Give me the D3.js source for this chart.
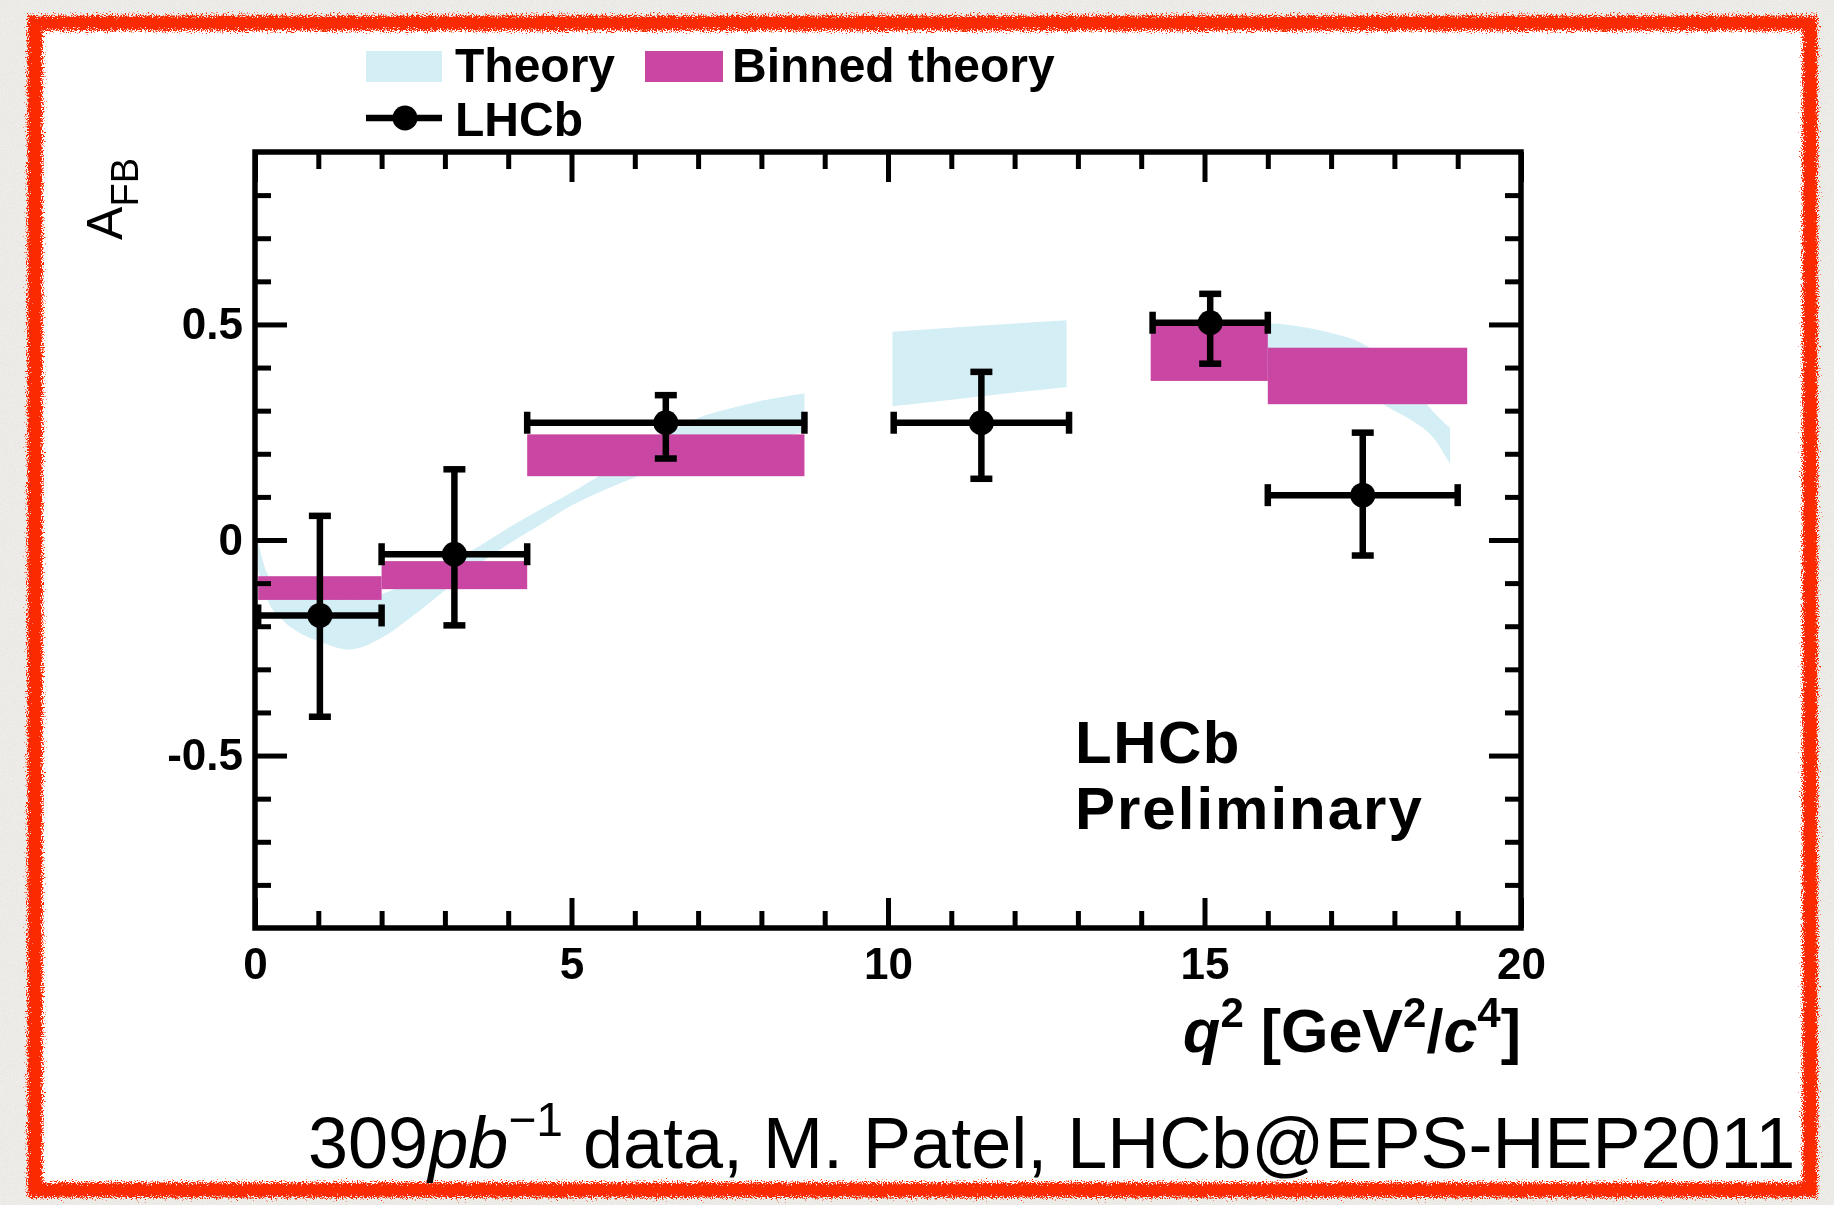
<!DOCTYPE html>
<html>
<head>
<meta charset="utf-8">
<script src="https://cdn.jsdelivr.net/npm/d3@7"></script>
<style>
  html, body { margin: 0; padding: 0; background: #eeede9; }
  svg { display: block; }
  text { font-family: "Liberation Sans", Arial, Helvetica, sans-serif; }
</style>
</head>
<body>
<svg id="chart" width="1834" height="1205"></svg>
<script>
// ---- Theory band (SM prediction, three q^2 regions) ----
const bandLowQ   = [0.05, 0.2, 0.45, 0.7, 1.0, 1.5, 2.0, 2.5, 3.0, 3.5, 4.0, 4.5, 5.0, 5.5, 6.0, 6.5, 7.0, 7.5, 8.0, 8.68];
const bandLowHi  = [-0.005, -0.08, -0.115, -0.128, -0.135, -0.138, -0.125, -0.095, -0.058, -0.018, 0.028, 0.07, 0.11, 0.155, 0.2, 0.245, 0.283, 0.305, 0.323, 0.34];
const bandLowLo  = [-0.07, -0.14, -0.188, -0.215, -0.234, -0.254, -0.227, -0.175, -0.117, -0.06, -0.01, 0.035, 0.08, 0.115, 0.145, 0.17, 0.19, 0.21, 0.23, 0.25];

const bandMidQ   = [10.07, 11.45, 12.82];
const bandMidHi  = [0.483, 0.497, 0.51];
const bandMidLo  = [0.31, 0.333, 0.355];

const bandHighQ  = [14.18, 15.0, 16.0, 16.5, 17.0, 17.5, 18.0, 18.3, 18.6, 18.88];
const bandHighHi = [0.47, 0.495, 0.502, 0.495, 0.48, 0.455, 0.40, 0.355, 0.30, 0.26];
const bandHighLo = [0.40, 0.41, 0.405, 0.39, 0.37, 0.34, 0.30, 0.275, 0.24, 0.176];

// ---- Binned theory ----
const binLo  = [0.05, 2.0, 4.3, 14.15, 16.0];
const binHi  = [2.0, 4.3, 8.68, 16.0, 19.15];
const binTop = [-0.084, -0.049, 0.245, 0.497, 0.446];
const binBot = [-0.139, -0.114, 0.148, 0.369, 0.315];

// ---- LHCb measurement ----
const dataLo   = [0.05, 2.0, 4.3, 10.09, 14.18, 16.0];
const dataHi   = [2.0, 4.3, 8.68, 12.86, 16.0, 19.0];
const afb      = [-0.175, -0.033, 0.272, 0.272, 0.504, 0.104];
const afbUp    = [0.056, 0.164, 0.336, 0.39, 0.571, 0.249];
const afbDown  = [-0.41, -0.198, 0.189, 0.142, 0.409, -0.036];

// ---- Axis ticks ----
const xMajor = [0, 5, 10, 15, 20];
const xTickLabels = ["0", "5", "10", "15", "20"];
const yMajor = [-0.5, 0, 0.5];
const yTickLabels = ["-0.5", "0", "0.5"];

const colTheory = "#d3eef4";
const colBinned = "#c946a2";

const svg = d3.select("#chart");
const defs = svg.append("defs");

// paper grain outside the frame
const paper = defs.append("filter").attr("id", "paper").attr("x", 0).attr("y", 0).attr("width", 1).attr("height", 1);
paper.append("feTurbulence").attr("type", "fractalNoise").attr("baseFrequency", 0.9).attr("numOctaves", 3).attr("seed", 4);
paper.append("feColorMatrix").attr("type", "matrix")
  .attr("values", "0 0 0 0 0.55  0 0 0 0 0.55  0 0 0 0 0.52  0.5 0 0 0 -0.2");

// hand-drawn marker border
const rough = defs.append("filter").attr("id", "rough").attr("x", "-3%").attr("y", "-3%").attr("width", "106%").attr("height", "106%");
rough.append("feTurbulence").attr("type", "fractalNoise").attr("baseFrequency", 0.8).attr("numOctaves", 3).attr("seed", 9).attr("result", "n");
rough.append("feDisplacementMap").attr("in", "SourceGraphic").attr("in2", "n").attr("scale", 13)
  .attr("xChannelSelector", "R").attr("yChannelSelector", "G");

// slight softness of the printed plot
const soft = defs.append("filter").attr("id", "soft").attr("x", "-2%").attr("y", "-2%").attr("width", "104%").attr("height", "104%");
soft.append("feGaussianBlur").attr("stdDeviation", 0.6);

svg.append("rect").attr("width", 1834).attr("height", 1205).attr("fill", "#eeede9");
svg.append("rect").attr("width", 1834).attr("height", 1205).attr("filter", "url(#paper)");

svg.append("rect").attr("x", 35).attr("y", 23).attr("width", 1775).attr("height", 1167).attr("fill", "#ffffff");
svg.append("rect").attr("x", 35).attr("y", 23).attr("width", 1775).attr("height", 1167)
  .attr("fill", "none").attr("stroke", "#fb2a06").attr("stroke-width", 15).attr("filter", "url(#rough)");

const chart = svg.append("g").attr("filter", "url(#soft)");

// ---- scales ----
const x = d3.scaleLinear().domain([0, 20]).range([255, 1521]);
const y = d3.scaleLinear().domain([-0.9, 0.9]).range([928, 152]);

defs.append("clipPath").attr("id", "plotclip").append("rect")
  .attr("x", x(0)).attr("y", y(0.9)).attr("width", x(20) - x(0)).attr("height", y(-0.9) - y(0.9));

const plot = chart.append("g").attr("clip-path", "url(#plotclip)");

// theory band
const area = d3.area()
  .x(d => x(d[0])).y0(d => y(d[2])).y1(d => y(d[1]))
  .curve(d3.curveMonotoneX);
[[bandLowQ, bandLowHi, bandLowLo], [bandMidQ, bandMidHi, bandMidLo], [bandHighQ, bandHighHi, bandHighLo]]
  .forEach(([q, hi, lo]) => {
    plot.append("path").datum(d3.zip(q, hi, lo)).attr("d", area).attr("fill", colTheory);
  });

// binned theory boxes
plot.selectAll("rect.bin").data(d3.range(binLo.length)).join("rect").attr("class", "bin")
  .attr("x", i => x(binLo[i])).attr("width", i => x(binHi[i]) - x(binLo[i]))
  .attr("y", i => y(binTop[i])).attr("height", i => y(binBot[i]) - y(binTop[i]))
  .attr("fill", colBinned);

// LHCb points with error bars
const pts = d3.range(afb.length).map(i => ({
  lo: dataLo[i], hi: dataHi[i], mid: (dataLo[i] + dataHi[i]) / 2,
  v: afb[i], up: afbUp[i], dn: afbDown[i]
}));
const eb = plot.append("g").attr("stroke", "#000").attr("stroke-width", 6.5).attr("fill", "none");
const capW = 11;
pts.forEach(p => {
  const cx = x(p.mid), cy = y(p.v);
  eb.append("line").attr("x1", x(p.lo)).attr("x2", x(p.hi)).attr("y1", cy).attr("y2", cy);
  eb.append("line").attr("x1", cx).attr("x2", cx).attr("y1", y(p.up)).attr("y2", y(p.dn));
  eb.append("line").attr("x1", x(p.lo)).attr("x2", x(p.lo)).attr("y1", cy - capW).attr("y2", cy + capW);
  eb.append("line").attr("x1", x(p.hi)).attr("x2", x(p.hi)).attr("y1", cy - capW).attr("y2", cy + capW);
  eb.append("line").attr("x1", cx - capW).attr("x2", cx + capW).attr("y1", y(p.up)).attr("y2", y(p.up));
  eb.append("line").attr("x1", cx - capW).attr("x2", cx + capW).attr("y1", y(p.dn)).attr("y2", y(p.dn));
});
plot.selectAll("circle.pt").data(pts).join("circle").attr("class", "pt")
  .attr("cx", p => x(p.mid)).attr("cy", p => y(p.v)).attr("r", 12.5).attr("fill", "#000");

// ---- axes and frame ----
const xMinor = d3.range(1, 20).filter(v => v % 5 !== 0);
const yMinor = d3.range(-8, 9).map(v => v / 10).filter(v => Math.abs(v) > 1e-9 && Math.abs(Math.abs(v) - 0.5) > 1e-9);

function styleAxis(g) {
  g.select(".domain").remove();
  g.selectAll(".tick line").attr("stroke", "#000").attr("stroke-width", 5);
  g.selectAll(".tick text").attr("font-size", 44).attr("font-weight", "bold").attr("fill", "#000");
}
const axes = chart.append("g");
axes.append("g").attr("transform", `translate(0,${y(-0.9)})`)
  .call(d3.axisBottom(x).tickValues(xMajor).tickSize(-30).tickPadding(20).tickFormat((d, i) => xTickLabels[i])).call(styleAxis);
axes.append("g").attr("transform", `translate(0,${y(-0.9)})`)
  .call(d3.axisBottom(x).tickValues(xMinor).tickSize(-17).tickFormat("")).call(styleAxis);
axes.append("g").attr("transform", `translate(0,${y(0.9)})`)
  .call(d3.axisTop(x).tickValues(xMajor).tickSize(-30).tickFormat("")).call(styleAxis);
axes.append("g").attr("transform", `translate(0,${y(0.9)})`)
  .call(d3.axisTop(x).tickValues(xMinor).tickSize(-17).tickFormat("")).call(styleAxis);
axes.append("g").attr("transform", `translate(${x(0)},0)`)
  .call(d3.axisLeft(y).tickValues(yMajor).tickSize(-32).tickPadding(12).tickFormat((d, i) => yTickLabels[i])).call(styleAxis);
axes.append("g").attr("transform", `translate(${x(0)},0)`)
  .call(d3.axisLeft(y).tickValues(yMinor).tickSize(-16).tickFormat("")).call(styleAxis);
axes.append("g").attr("transform", `translate(${x(20)},0)`)
  .call(d3.axisRight(y).tickValues(yMajor).tickSize(-32).tickFormat("")).call(styleAxis);
axes.append("g").attr("transform", `translate(${x(20)},0)`)
  .call(d3.axisRight(y).tickValues(yMinor).tickSize(-16).tickFormat("")).call(styleAxis);

axes.append("rect").attr("x", x(0)).attr("y", y(0.9)).attr("width", x(20) - x(0)).attr("height", y(-0.9) - y(0.9))
  .attr("fill", "none").attr("stroke", "#000").attr("stroke-width", 5.5);

// axis titles
const xt = chart.append("text").attr("x", x(20)).attr("y", 1052).attr("text-anchor", "end")
  .attr("font-size", 61).attr("font-weight", "bold").attr("fill", "#000");
xt.append("tspan").attr("font-style", "italic").text("q");
xt.append("tspan").attr("font-size", 42).attr("dy", -25).text("2");
xt.append("tspan").attr("dy", 25).text(" [GeV");
xt.append("tspan").attr("font-size", 42).attr("dy", -25).text("2");
xt.append("tspan").attr("dy", 25).text("/");
xt.append("tspan").attr("font-style", "italic").text("c");
xt.append("tspan").attr("font-size", 42).attr("dy", -25).text("4");
xt.append("tspan").attr("dy", 25).text("]");

const yt = chart.append("text").attr("transform", "translate(122,158) rotate(-90)").attr("text-anchor", "end")
  .attr("font-size", 50).attr("fill", "#000");
yt.append("tspan").text("A");
yt.append("tspan").attr("font-size", 38).attr("dy", 16).text("FB");

// legend
const leg = chart.append("g");
leg.append("rect").attr("x", 366).attr("y", 51).attr("width", 76).attr("height", 31).attr("fill", colTheory);
leg.append("rect").attr("x", 645).attr("y", 51).attr("width", 78).attr("height", 31).attr("fill", colBinned);
leg.append("line").attr("x1", 366).attr("x2", 442).attr("y1", 118).attr("y2", 118).attr("stroke", "#000").attr("stroke-width", 6.5);
leg.append("circle").attr("cx", 405).attr("cy", 118).attr("r", 12.5).attr("fill", "#000");
const legText = [["Theory", 455, 82], ["Binned theory", 732, 82], ["LHCb", 455, 136]];
leg.selectAll("text").data(legText).join("text")
  .attr("x", d => d[1]).attr("y", d => d[2]).attr("font-size", 48).attr("font-weight", "bold").attr("fill", "#000")
  .text(d => d[0]);

// experiment tag
chart.append("text").attr("x", 1075).attr("y", 763).attr("font-size", 60).attr("font-weight", "bold")
  .attr("letter-spacing", 1.5).text("LHCb");
chart.append("text").attr("x", 1075).attr("y", 829).attr("font-size", 60).attr("font-weight", "bold")
  .attr("letter-spacing", 2).text("Preliminary");

// source line
const cap = chart.append("text").attr("x", 308).attr("y", 1168).attr("font-size", 72).attr("fill", "#000");
cap.append("tspan").text("309");
cap.append("tspan").attr("font-style", "italic").text("pb");
cap.append("tspan").attr("font-size", 48).attr("dy", -32).text("\u22121");
cap.append("tspan").attr("dy", 32).text(" data, M. Patel, LHCb@EPS-HEP2011");
</script>
</body>
</html>
